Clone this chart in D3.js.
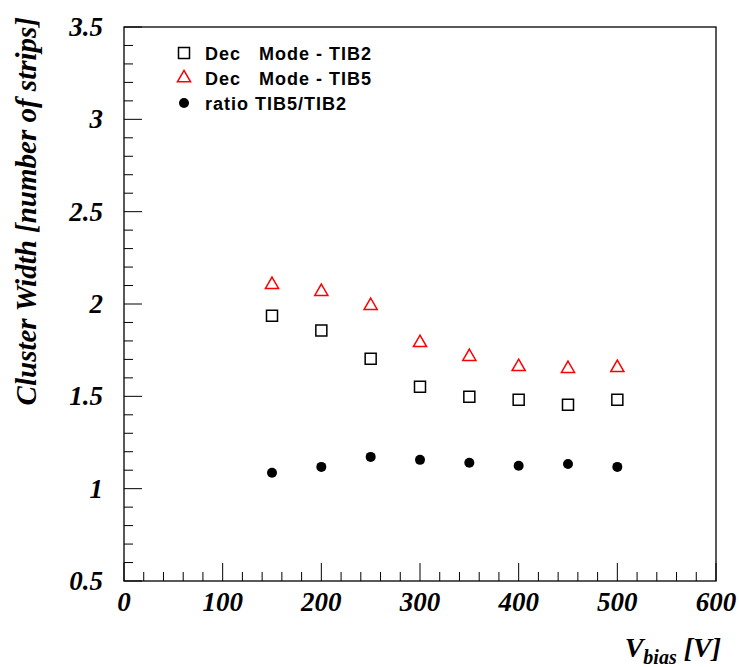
<!DOCTYPE html>
<html><head><meta charset="utf-8">
<script src="https://cdn.jsdelivr.net/npm/d3@7"></script>
<style>body{margin:0;background:#fff}</style>
</head><body>
<svg id="c" width="739" height="667"></svg>
<script>
const voltages = [150, 200, 250, 300, 350, 400, 450, 500];
const tib2 = [1.937, 1.856, 1.704, 1.552, 1.498, 1.482, 1.454, 1.482];
const tib5 = [2.105, 2.067, 1.991, 1.790, 1.715, 1.660, 1.650, 1.655];
const ratio = [1.086, 1.118, 1.172, 1.156, 1.140, 1.124, 1.134, 1.118];
const xTicks = [0, 100, 200, 300, 400, 500, 600];
const yTicks = [0.5, 1, 1.5, 2, 2.5, 3, 3.5];
const legendLabels = ["Dec   Mode - TIB2", "Dec   Mode - TIB5", "ratio TIB5/TIB2"];

const svg = d3.select("#c");
const L = 124, R = 716, T = 27, B = 581;
const x = d3.scaleLinear().domain([0, 600]).range([L, R]);
const y = d3.scaleLinear().domain([0.5, 3.5]).range([B, T]);

svg.append("rect").attr("x", L).attr("y", T).attr("width", R - L).attr("height", B - T)
  .attr("fill", "none").attr("stroke", "#000").attr("stroke-width", 1.3);

const serif = "'Liberation Serif','Times New Roman',serif";
const sans = "'Liberation Sans',Arial,sans-serif";

const xMinor = d3.range(0, 601, 20);
svg.append("g").selectAll("line").data(xMinor).join("line")
  .attr("x1", d => x(d)).attr("x2", d => x(d))
  .attr("y1", B).attr("y2", d => B - (d % 100 === 0 ? 18 : 9))
  .attr("stroke", "#000").attr("stroke-width", 1);
svg.append("g").selectAll("text").data(xTicks).join("text")
  .attr("x", d => x(d)).attr("y", 611).attr("text-anchor", "middle")
  .attr("font-family", serif).attr("font-weight", "bold").attr("font-style", "italic")
  .attr("font-size", 27).text(d => d);

const yMinor = d3.range(5, 36, 1).map(v => v / 10);
svg.append("g").selectAll("line").data(yMinor).join("line")
  .attr("x1", L).attr("x2", d => L + (Math.round(d * 10) % 5 === 0 ? 18 : 9))
  .attr("y1", d => y(d)).attr("y2", d => y(d))
  .attr("stroke", "#000").attr("stroke-width", 1);
svg.append("g").selectAll("text").data(yTicks).join("text")
  .attr("x", 103).attr("y", d => y(d) + 9).attr("text-anchor", "end")
  .attr("font-family", serif).attr("font-weight", "bold").attr("font-style", "italic")
  .attr("font-size", 27).text(d => d);

svg.append("text").attr("transform", "translate(36,17) rotate(-90)")
  .attr("text-anchor", "end")
  .attr("font-family", serif).attr("font-weight", "bold").attr("font-style", "italic")
  .attr("font-size", 29).text("Cluster Width [number of strips]");
const xt = svg.append("text").attr("x", 721).attr("y", 657).attr("text-anchor", "end")
  .attr("font-family", serif).attr("font-weight", "bold").attr("font-style", "italic")
  .attr("font-size", 28);
xt.append("tspan").text("V");
xt.append("tspan").attr("font-size", 20).attr("dy", 7).text("bias");
xt.append("tspan").attr("dy", -7).text(" [V]");

const sq = d3.symbol().type(d3.symbolSquare).size(121);
const tri = d3.symbol().type(d3.symbolTriangle).size(75);
const g = svg.append("g");
g.selectAll(".s").data(voltages).join("path").attr("class", "s")
  .attr("d", sq).attr("transform", (d, i) => `translate(${x(d)},${y(tib2[i])})`)
  .attr("fill", "none").attr("stroke", "#000").attr("stroke-width", 1.5);
g.selectAll(".t").data(voltages).join("path").attr("class", "t")
  .attr("d", tri).attr("transform", (d, i) => `translate(${x(d)},${y(tib5[i])})`)
  .attr("fill", "none").attr("stroke", "#ff0000").attr("stroke-width", 1.5);
g.selectAll(".c").data(voltages).join("circle").attr("class", "c")
  .attr("cx", d => x(d)).attr("cy", (d, i) => y(ratio[i])).attr("r", 5).attr("fill", "#000");

const ly = [53, 78, 103];
svg.append("path").attr("d", sq).attr("transform", `translate(184,${ly[0]})`)
  .attr("fill", "none").attr("stroke", "#000").attr("stroke-width", 1.5);
svg.append("path").attr("d", tri).attr("transform", `translate(184,${ly[1]})`)
  .attr("fill", "none").attr("stroke", "#ff0000").attr("stroke-width", 1.5);
svg.append("circle").attr("cx", 184).attr("cy", ly[2]).attr("r", 5).attr("fill", "#000");
svg.append("g").selectAll("text").data(legendLabels).join("text")
  .attr("x", 205).attr("y", (d, i) => ly[i] + 6.5)
  .attr("font-family", sans).attr("font-weight", "bold").attr("font-size", 18)
  .attr("letter-spacing", 1)
  .attr("xml:space", "preserve").style("white-space", "pre").text(d => d);
</script>
</body></html>
